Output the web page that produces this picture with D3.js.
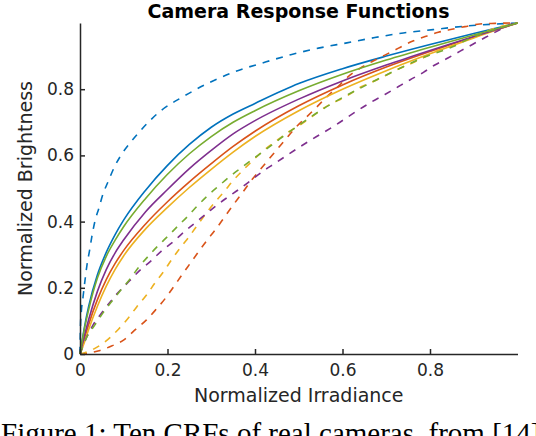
<!DOCTYPE html>
<html>
<head>
<meta charset="utf-8">
<style>
  body { margin: 0; background: #fff; }
  svg { display: block; }
  .axis .domain { stroke: #262626; stroke-width: 1.5; }
  .axis line { stroke: #262626; stroke-width: 1.5; }
  .axis text { fill: #262626; font-family: "DejaVu Sans", sans-serif; font-size: 17px; }
</style>
</head>
<body>
<svg width="536" height="436"></svg>
<script src="https://d3js.org/d3.v7.min.js"></script>
<script>
// tick values
var xTicks = [0, 0.2, 0.4, 0.6, 0.8];
var yTicks = [0, 0.2, 0.4, 0.6, 0.8];

// irradiance samples for the solid curves
var irr = [0, 0.01, 0.02, 0.04, 0.06, 0.08, 0.1, 0.15, 0.2, 0.25, 0.3, 0.35, 0.4, 0.5, 0.6, 0.7, 0.8, 0.9, 1];

// solid CRFs (brightness at irr)
var crfSolidBlue   = [0, 0.08, 0.145, 0.24, 0.307, 0.36, 0.405, 0.495, 0.57, 0.633, 0.685, 0.725, 0.757, 0.817, 0.862, 0.9, 0.935, 0.968, 1];
var crfSolidGreen  = [0, 0.075, 0.135, 0.23, 0.295, 0.343, 0.385, 0.47, 0.543, 0.605, 0.657, 0.7, 0.735, 0.795, 0.845, 0.888, 0.927, 0.964, 1];
var crfSolidPurple = [0, 0.055, 0.105, 0.19, 0.255, 0.305, 0.345, 0.43, 0.497, 0.56, 0.615, 0.665, 0.705, 0.77, 0.825, 0.873, 0.917, 0.959, 1];
var crfSolidRed    = [0, 0.045, 0.09, 0.165, 0.225, 0.273, 0.313, 0.393, 0.46, 0.52, 0.575, 0.627, 0.673, 0.75, 0.813, 0.867, 0.914, 0.958, 1];
var crfSolidYellow = [0, 0.035, 0.075, 0.145, 0.205, 0.255, 0.297, 0.378, 0.443, 0.503, 0.558, 0.61, 0.657, 0.735, 0.8, 0.856, 0.907, 0.955, 1];

// dashed CRFs, [irradiance, brightness]
var crfDashBlue = [[0,0],[0.001,0.082],[0.003,0.128],[0.007,0.173],[0.011,0.218],[0.016,0.269],[0.022,0.314],[0.027,0.354],[0.034,0.4],[0.043,0.44],[0.053,0.485],[0.064,0.52],[0.079,0.566],[0.094,0.601],[0.114,0.637],[0.133,0.667],[0.182,0.732],[0.235,0.777],[0.296,0.82],[0.354,0.853],[0.419,0.88],[0.484,0.905],[0.545,0.924],[0.61,0.94],[0.674,0.956],[0.739,0.97],[0.807,0.98],[0.876,0.99],[1,1]];
var crfDashRed = [[0,0],[0.041,0.009],[0.072,0.024],[0.102,0.044],[0.125,0.072],[0.152,0.103],[0.174,0.135],[0.195,0.168],[0.214,0.203],[0.233,0.239],[0.252,0.274],[0.271,0.309],[0.29,0.343],[0.312,0.38],[0.331,0.415],[0.35,0.45],[0.37,0.485],[0.389,0.52],[0.41,0.554],[0.43,0.586],[0.451,0.619],[0.472,0.652],[0.495,0.687],[0.518,0.716],[0.541,0.746],[0.564,0.777],[0.59,0.808],[0.613,0.838],[0.64,0.863],[0.667,0.883],[0.697,0.903],[0.728,0.924],[0.758,0.944],[0.789,0.959],[0.819,0.972],[0.85,0.981],[0.88,0.989],[0.914,0.997],[0.949,0.999],[1,1]];
var crfDashYellow = [[0,0],[0.034,0.017],[0.064,0.044],[0.088,0.075],[0.11,0.108],[0.13,0.143],[0.152,0.178],[0.171,0.214],[0.19,0.247],[0.209,0.284],[0.228,0.319],[0.247,0.35],[0.266,0.385],[0.308,0.458],[0.329,0.49],[0.35,0.524],[0.373,0.556],[0.396,0.586],[0.419,0.614],[0.446,0.641],[0.472,0.667],[0.503,0.692],[0.53,0.717],[0.556,0.742],[0.613,0.782],[0.644,0.808],[0.67,0.823],[0.701,0.843],[0.728,0.861],[0.758,0.878],[0.789,0.898],[0.819,0.918],[0.85,0.931],[0.88,0.949],[0.91,0.964],[0.937,0.979],[1,1]];
var crfDashGreen = [[0,0],[0.014,0.047],[0.034,0.088],[0.053,0.125],[0.072,0.158],[0.092,0.191],[0.114,0.226],[0.134,0.262],[0.155,0.294],[0.177,0.325],[0.201,0.356],[0.224,0.387],[0.247,0.417],[0.27,0.45],[0.293,0.48],[0.32,0.511],[0.344,0.538],[0.37,0.564],[0.394,0.588],[0.421,0.614],[0.448,0.641],[0.474,0.667],[0.501,0.692],[0.528,0.717],[0.555,0.74],[0.583,0.762],[0.67,0.823],[0.728,0.861],[0.789,0.898],[0.853,0.929],[0.884,0.949],[0.914,0.966],[0.945,0.979],[1,1]];
var crfDashPurple = [[0,0],[0.014,0.047],[0.03,0.088],[0.049,0.123],[0.08,0.175],[0.114,0.222],[0.136,0.252],[0.163,0.282],[0.186,0.311],[0.213,0.339],[0.239,0.37],[0.262,0.395],[0.289,0.424],[0.312,0.449],[0.339,0.475],[0.366,0.5],[0.392,0.526],[0.419,0.553],[0.448,0.578],[0.476,0.603],[0.503,0.626],[0.532,0.65],[0.56,0.672],[0.587,0.694],[0.613,0.717],[0.667,0.762],[0.697,0.784],[0.728,0.808],[0.754,0.828],[0.785,0.851],[0.811,0.873],[0.842,0.895],[0.869,0.915],[0.898,0.936],[0.926,0.956],[0.956,0.977],[0.987,0.997],[1,1]];

function pairs(vals) {
  return irr.map(function(v, i) { return [v, vals[i]]; });
}

var svg = d3.select("svg");
var margin = {left: 80, right: 18.5, top: 23, bottom: 82};
var width = 536 - margin.left - margin.right,
    height = 436 - margin.top - margin.bottom;

var g = svg.append("g").attr("transform", "translate(" + margin.left + "," + margin.top + ")");

var x = d3.scaleLinear().domain([0, 1]).range([0, width]);
var y = d3.scaleLinear().domain([0, 1]).range([height, 0]);

// matlab default colours
var series = [
  {d: pairs(crfSolidBlue), c: "#0072BD", dash: null},
  {d: crfDashBlue, c: "#0072BD", dash: "7,7"},
  {d: pairs(crfSolidRed), c: "#D95319", dash: null},
  {d: crfDashRed, c: "#D95319", dash: "7,7"},
  {d: pairs(crfSolidYellow), c: "#EDB120", dash: null},
  {d: crfDashYellow, c: "#EDB120", dash: "7,7"},
  {d: pairs(crfSolidPurple), c: "#7E2F8E", dash: null},
  {d: crfDashPurple, c: "#7E2F8E", dash: "7,7"},
  {d: pairs(crfSolidGreen), c: "#77AC30", dash: null},
  {d: crfDashGreen, c: "#77AC30", dash: "7,7"}
];

var line = d3.line()
  .x(function(d) { return x(d[0]); })
  .y(function(d) { return y(d[1]); })
  .curve(d3.curveMonotoneX);

g.selectAll("path.crf")
  .data(series)
  .enter().append("path")
  .attr("class", "crf")
  .attr("fill", "none")
  .attr("stroke", function(s) { return s.c; })
  .attr("stroke-width", 1.6)
  .attr("stroke-dasharray", function(s) { return s.dash; })
  .attr("d", function(s) { return line(s.d); });

g.append("g")
  .attr("class", "axis")
  .attr("transform", "translate(0," + height + ")")
  .call(d3.axisBottom(x).tickValues(xTicks).tickFormat(d3.format("")).tickSizeInner(-5).tickSizeOuter(0).tickPadding(10));

g.append("g")
  .attr("class", "axis")
  .call(d3.axisLeft(y).tickValues(yTicks).tickFormat(d3.format("")).tickSizeInner(-5).tickSizeOuter(0).tickPadding(6));

svg.append("text")
  .attr("x", 298.5)
  .attr("y", 18)
  .attr("text-anchor", "middle")
  .attr("font-family", "DejaVu Sans, sans-serif")
  .attr("font-size", 19)
  .attr("font-weight", "bold")
  .attr("fill", "#000")
  .text("Camera Response Functions");

svg.append("text")
  .attr("x", margin.left + width / 2)
  .attr("y", 402)
  .attr("text-anchor", "middle")
  .attr("font-family", "DejaVu Sans, sans-serif")
  .attr("font-size", 19)
  .attr("fill", "#262626")
  .text("Normalized Irradiance");

svg.append("text")
  .attr("transform", "translate(32," + (margin.top + height / 2) + ") rotate(-90)")
  .attr("text-anchor", "middle")
  .attr("font-family", "DejaVu Sans, sans-serif")
  .attr("font-size", 19)
  .attr("fill", "#262626")
  .text("Normalized Brightness");

svg.append("text")
  .attr("x", 1)
  .attr("y", 443)
  .attr("font-family", "Liberation Serif, Times New Roman, serif")
  .attr("font-size", 29)
  .attr("fill", "#000")
  .text("Figure 1: Ten CRFs of real cameras, from [14]");
</script>
</body>
</html>
